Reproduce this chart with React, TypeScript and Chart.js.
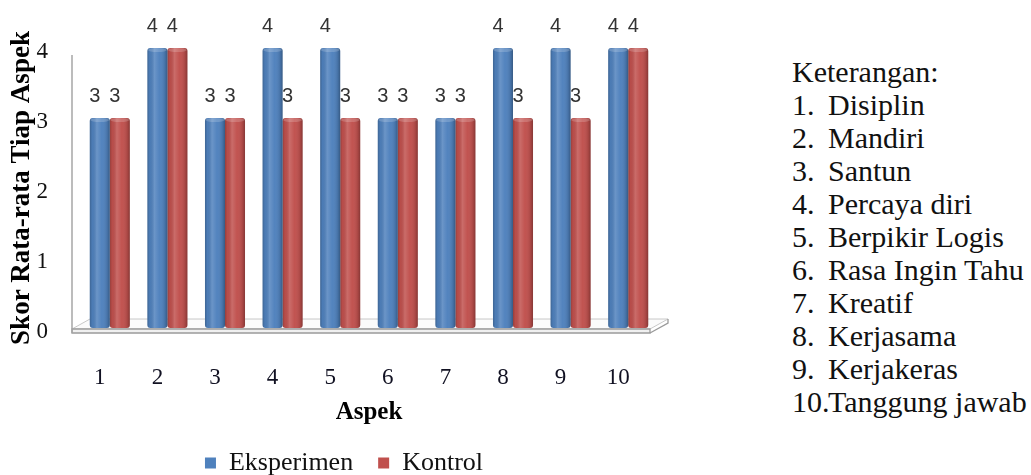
import React, { useEffect, useRef } from "react";
import { Chart, registerables } from "chart.js";

Chart.register(...registerables);

// ---- data ----
const categories = ["1", "2", "3", "4", "5", "6", "7", "8", "9", "10"];
const eksperimen = [3, 4, 3, 4, 4, 3, 3, 4, 4, 4];
const kontrol = [3, 4, 3, 3, 3, 3, 3, 3, 3, 4];
const seriesNames = ["Eksperimen", "Kontrol"];
const yMin = 0;
const yMax = 4;
const yStep = 1;
const yTitle = "Skor Rata-rata Tiap Aspek";
const xTitle = "Aspek";
const keteranganTitle = "Keterangan:";
const keteranganItems = [
  "Disiplin",
  "Mandiri",
  "Santun",
  "Percaya diri",
  "Berpikir Logis",
  "Rasa Ingin Tahu",
  "Kreatif",
  "Kerjasama",
  "Kerjakeras",
  "Tanggung jawab",
];

const SERIF = "'Liberation Serif', 'Times New Roman', serif";
const SANS = "'Liberation Sans', Arial, sans-serif";
const BLUE = "#4f81bd";
const RED = "#c0504d";

const floorPlugin = {
  id: "floor3d",
  beforeDatasetsDraw(chart: any) {
    const { ctx, chartArea } = chart;
    const { left, right, top, bottom } = chartArea;
    const x0 = left - 9;
    const x1 = right - 7;
    const yTop = bottom + 1;
    const yBot = bottom + 5;
    const dx = 18;
    const dy = -10;
    ctx.save();
    // top surface of floor
    ctx.beginPath();
    ctx.moveTo(x0, yTop);
    ctx.lineTo(x1, yTop);
    ctx.lineTo(x1 + dx, yTop + dy);
    ctx.lineTo(x0 + dx, yTop + dy);
    ctx.closePath();
    ctx.fillStyle = "#fbfbfb";
    ctx.fill();
    ctx.strokeStyle = "#c8c8c8";
    ctx.lineWidth = 1;
    ctx.stroke();
    // front face
    ctx.beginPath();
    ctx.rect(x0, yTop, x1 - x0, yBot - yTop);
    ctx.fillStyle = "#f0f0f0";
    ctx.fill();
    ctx.strokeStyle = "#9a9a9a";
    ctx.lineWidth = 1.3;
    ctx.stroke();
    // right face
    ctx.beginPath();
    ctx.moveTo(x1, yBot);
    ctx.lineTo(x1 + dx, yBot + dy);
    ctx.lineTo(x1 + dx, yTop + dy);
    ctx.stroke();
    // left axis line
    ctx.beginPath();
    ctx.moveTo(x0, top + 7);
    ctx.lineTo(x0, yBot);
    ctx.strokeStyle = "#a6a6a6";
    ctx.lineWidth = 1.5;
    ctx.stroke();
    ctx.restore();
  },
};

const shadeAndLabelPlugin = {
  id: "shadeLabels",
  afterDatasetsDraw(chart: any) {
    const { ctx } = chart;
    ctx.save();
    chart.data.datasets.forEach((ds: any, di: number) => {
      const meta = chart.getDatasetMeta(di);
      if (meta.hidden) return;
      meta.data.forEach((el: any) => {
        const { x, y, base, width } = el.getProps(["x", "y", "base", "width"], true);
        const l = x - width / 2;
        const g = ctx.createLinearGradient(l, 0, l + width, 0);
        g.addColorStop(0, "rgba(0,0,0,0.22)");
        g.addColorStop(0.12, "rgba(0,0,0,0.04)");
        g.addColorStop(0.35, "rgba(255,255,255,0.16)");
        g.addColorStop(0.6, "rgba(255,255,255,0.02)");
        g.addColorStop(0.88, "rgba(0,0,0,0.12)");
        g.addColorStop(1, "rgba(0,0,0,0.3)");
        ctx.beginPath();
        ctx.roundRect(l, y, width, base - y, 3);
        ctx.fillStyle = g;
        ctx.fill();
        // top cap
        ctx.beginPath();
        ctx.ellipse(x, y + 2, width / 2 - 0.5, 2, 0, 0, Math.PI * 2);
        ctx.fillStyle = "rgba(255,255,255,0.18)";
        ctx.fill();
      });
    });
    // value labels
    ctx.font = `20px ${SANS}`;
    ctx.fillStyle = "#333333";
    ctx.textAlign = "center";
    ctx.textBaseline = "middle";
    chart.data.datasets.forEach((ds: any, di: number) => {
      const meta = chart.getDatasetMeta(di);
      meta.data.forEach((el: any, j: number) => {
        const { x, y } = el.getProps(["x", "y"], true);
        ctx.fillText(String(ds.data[j]), x - 5, y - 22);
      });
    });
    ctx.restore();
  },
};

export default function App() {
  const ref = useRef<HTMLCanvasElement>(null);

  useEffect(() => {
    if (!ref.current) return;
    const chart = new Chart(ref.current, {
      type: "bar",
      data: {
        labels: categories,
        datasets: [
          {
            label: seriesNames[0],
            data: eksperimen,
            backgroundColor: BLUE,
            borderWidth: 0,
            borderRadius: 3,
            borderSkipped: false,
          },
          {
            label: seriesNames[1],
            data: kontrol,
            backgroundColor: RED,
            borderWidth: 0,
            borderRadius: 3,
            borderSkipped: false,
          },
        ],
      },
      options: {
        responsive: false,
        animation: false,
        devicePixelRatio: 1,
        layout: { padding: { top: 48, left: 0, right: 0, bottom: 0 } },
        datasets: {
          bar: { categoryPercentage: 0.695, barPercentage: 1.0 },
        },
        scales: {
          x: {
            grid: { display: false, drawTicks: false },
            border: { display: false },
            ticks: {
              padding: 36,
              labelOffset: -10,
              color: "#111122",
              font: { family: SERIF, size: 23 },
            },
            title: {
              display: true,
              text: xTitle,
              color: "#000",
              font: { family: SERIF, size: 25, weight: "bold" },
              padding: { top: 0, bottom: -3 },
            },
            afterFit(s: any) {
              s.height = 97;
            },
          },
          y: {
            min: yMin,
            max: yMax,
            grid: { display: false, drawTicks: false },
            border: { display: false },
            ticks: {
              stepSize: yStep,
              padding: 33,
              labelOffset: 4,
              color: "#111",
              font: { family: SERIF, size: 23 },
            },
            title: {
              display: true,
              text: yTitle,
              color: "#000",
              font: { family: SERIF, size: 27, weight: "bold" },
              padding: { top: 6, bottom: 0 },
            },
            afterFit(s: any) {
              s.width = 81;
            },
          },
          y2: {
            type: "linear",
            position: "right",
            min: yMin,
            max: yMax,
            grid: { display: false, drawTicks: false },
            border: { display: false },
            ticks: { display: false },
            afterFit(s: any) {
              s.width = 31;
            },
          },
        },
        plugins: {
          legend: {
            position: "bottom",
            labels: {
              boxWidth: 11,
              boxHeight: 11,
              padding: 25,
              color: "#111",
              font: { family: SERIF, size: 26 },
            },
          },
          tooltip: { enabled: false },
        },
      } as any,
      plugins: [floorPlugin, shadeAndLabelPlugin],
    });
    return () => chart.destroy();
  }, []);

  return (
    <div
      style={{
        position: "fixed",
        left: 0,
        top: 0,
        width: 1031,
        height: 475,
        overflow: "hidden",
        background: "#fff",
      }}
    >
      <div style={{ position: "absolute", left: 0, top: 0, width: 688, height: 486 }}>
        <canvas ref={ref} width={688} height={486} style={{ display: "block" }} />
      </div>
      <div
        style={{
          position: "absolute",
          left: 792,
          top: 55,
          fontFamily: SERIF,
          fontSize: 30,
          lineHeight: "33px",
          color: "#111",
          whiteSpace: "nowrap",
        }}
      >
        <div>{keteranganTitle}</div>
        {keteranganItems.map((t, i) => (
          <div key={i} style={{ display: "flex" }}>
            <span style={{ width: 36, flex: "none" }}>{i + 1}.</span>
            <span>{t}</span>
          </div>
        ))}
      </div>
    </div>
  );
}
